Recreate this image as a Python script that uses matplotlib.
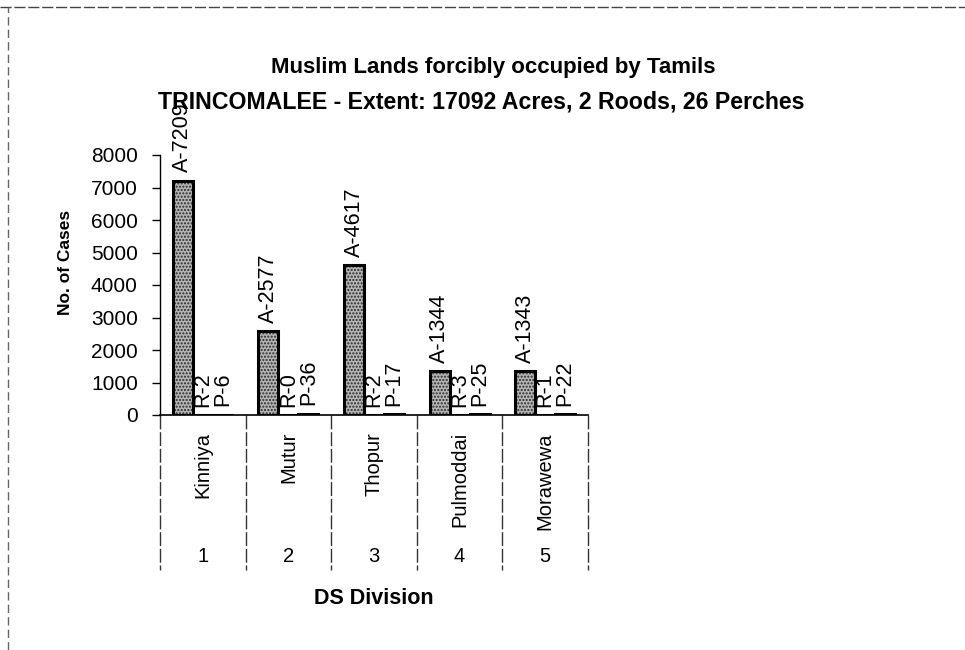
import numpy as np
import matplotlib
matplotlib.use("Agg")
import matplotlib.pyplot as plt
from matplotlib.lines import Line2D
import matplotlib.transforms as mtransforms

plt.rcParams['font.family'] = ['Liberation Sans', 'DejaVu Sans']

# data
divisions = ['Kinniya', 'Mutur', 'Thopur', 'Pulmoddai', 'Morawewa']
div_numbers = ['1', '2', '3', '4', '5']
acres = [7209, 2577, 4617, 1344, 1343]
roods = [2, 0, 2, 3, 1]
perches = [6, 36, 17, 25, 22]
series = [('A', acres), ('R', roods), ('P', perches)]
yticks = [0, 1000, 2000, 3000, 4000, 5000, 6000, 7000, 8000]

fig = plt.figure(figsize=(9.65, 6.5), dpi=100)
ax = fig.add_axes([160/965, 1-415/650, 428/965, 260/650])

x = np.arange(len(divisions))
w = 0.234
for k, (tag, vals) in enumerate(series):
    pos = x + (k - 1) * w
    # stippled gray fill, then the heavy black outline on top
    ax.bar(pos, vals, w, color='#b4b4b4', edgecolor='#2a2a2a', linewidth=0,
           hatch='.....', zorder=2)
    ax.bar(pos, vals, w, fill=False, edgecolor='black', linewidth=2.2, zorder=3)
    for xi, v in zip(pos, vals):
        ax.annotate(f'{tag}-{v}', (xi, v), xytext=(0, 6), textcoords='offset points',
                    rotation=90, ha='center', va='bottom', fontsize=15.5, zorder=4,
                    annotation_clip=False)

ax.set_xlim(-0.5, len(divisions) - 0.5)
ax.set_ylim(0, 8000)
ax.set_yticks(yticks)
ax.tick_params(axis='y', labelsize=15, length=6, width=1, pad=10)
ax.set_xticks([])
for s in ['top', 'right']:
    ax.spines[s].set_visible(False)
ax.spines['left'].set_linewidth(1)
ax.spines['bottom'].set_linewidth(1.2)

# two-level category axis: names, numbers and separators
trans = mtransforms.blended_transform_factory(ax.transData, ax.transAxes)
for b in np.arange(len(divisions) + 1) - 0.5:
    ax.plot([b, b], [0, -155/260], transform=trans, color='#333333', lw=1,
            linestyle=(0, (10, 2)), clip_on=False)
for xi, name, num in zip(x, divisions, div_numbers):
    ax.text(xi, -17/260, name, transform=trans, rotation=90, ha='center',
            va='top', fontsize=14.5)
    ax.text(xi, -141/260, num, transform=trans, ha='center', va='center',
            fontsize=14.5)

fig.text(66/965, 1-262/650, 'No. of Cases', rotation=90, ha='center', va='center',
         fontsize=12.5, fontweight='bold')
fig.text(374/965, 1-598/650, 'DS Division', ha='center', va='center',
         fontsize=15.5, fontweight='bold')

fig.text(493/965, 1-73/650, 'Muslim Lands forcibly occupied by Tamils',
         ha='center', va='baseline', fontsize=16, fontweight='bold')
fig.text(481/965, 1-108/650, 'TRINCOMALEE - Extent: 17092 Acres, 2 Roods, 26 Perches',
         ha='center', va='baseline', fontsize=16.7, fontweight='bold')

# chart-area border (only top and left survive in the scan)
fig.add_artist(Line2D([0, 1], [1-7/650, 1-7/650], color='#444444', lw=1,
                      linestyle=(0, (8, 2))))
fig.add_artist(Line2D([8/965, 8/965], [0, 1-7/650], color='#666666', lw=1,
                      linestyle=(0, (6, 3))))

fig.savefig('out.png', dpi=100)
